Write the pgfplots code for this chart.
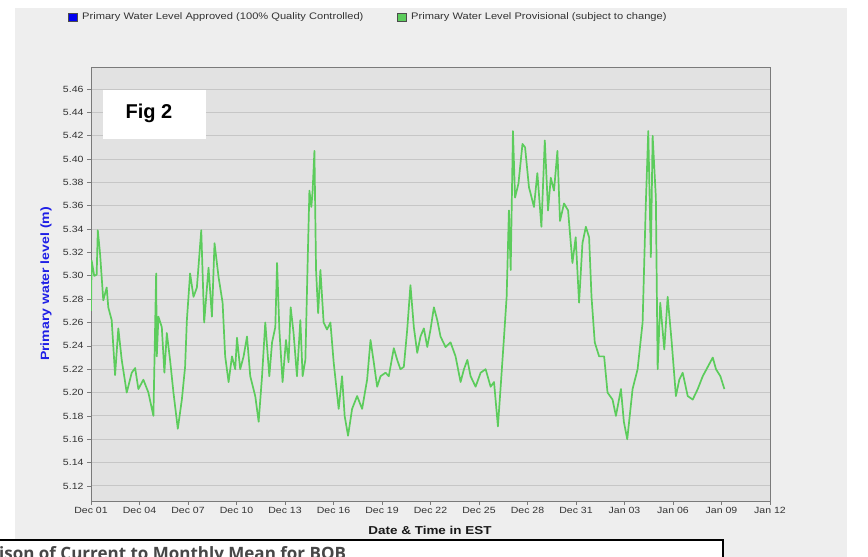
\documentclass[border=0pt]{standalone}
\usepackage{pgfplots}
\pgfplotsset{compat=1.18}
\usepackage{pgfplotstable}
\usepackage{fontspec}
\setmainfont[FakeStretch=1.17]{Liberation Sans}
\newfontfamily\figfont{Liberation Sans}
\newfontfamily\boxfont{Open Sans}

\definecolor{panelbg}{HTML}{EEEEEE}
\definecolor{plotbg}{HTML}{E2E2E2}
\definecolor{gridc}{HTML}{C6C6C6}
\definecolor{framec}{HTML}{7A7A7A}
\definecolor{ticklab}{HTML}{333333}
\definecolor{provgreen}{HTML}{5CCC5C}
\definecolor{apprblue}{HTML}{0000F0}
\definecolor{ylabblue}{HTML}{1E1EE6}

% Provisional primary water level, days since Dec 01 vs level (m)
\pgfplotstableread{
d      h
0.00   5.270
0.04   5.313
0.20   5.300
0.35   5.301
0.42   5.339
0.56   5.319
0.76   5.279
0.97   5.290
1.07   5.273
1.28   5.262
1.49   5.215
1.69   5.255
1.90   5.228
2.21   5.200
2.52   5.217
2.73   5.221
2.93   5.203
3.24   5.211
3.55   5.200
3.86   5.180
4.03   5.302
4.07   5.231
4.17   5.265
4.38   5.256
4.54   5.217
4.69   5.251
4.89   5.228
5.10   5.200
5.37   5.169
5.62   5.194
5.82   5.222
5.93   5.262
6.13   5.302
6.34   5.282
6.55   5.290
6.82   5.339
7.00   5.260
7.27   5.307
7.48   5.265
7.64   5.328
7.89   5.299
8.14   5.277
8.30   5.231
8.51   5.209
8.72   5.231
8.92   5.220
9.03   5.247
9.23   5.220
9.44   5.231
9.65   5.248
9.85   5.214
10.16  5.197
10.37  5.175
10.58  5.214
10.78  5.260
11.03  5.214
11.20  5.243
11.40  5.256
11.51  5.311
11.65  5.254
11.85  5.209
12.06  5.245
12.22  5.226
12.35  5.273
12.53  5.251
12.74  5.214
12.95  5.262
13.09  5.214
13.26  5.228
13.40  5.311
13.51  5.373
13.63  5.359
13.71  5.373
13.82  5.407
13.92  5.305
14.05  5.268
14.19  5.305
14.39  5.260
14.60  5.254
14.81  5.260
15.01  5.226
15.32  5.186
15.53  5.214
15.69  5.180
15.90  5.163
16.15  5.186
16.46  5.197
16.77  5.186
16.98  5.203
17.08  5.211
17.29  5.245
17.49  5.226
17.70  5.205
17.91  5.214
18.22  5.217
18.42  5.214
18.73  5.238
18.94  5.228
19.14  5.220
19.35  5.222
19.56  5.254
19.76  5.292
19.97  5.256
20.18  5.234
20.38  5.248
20.59  5.255
20.80  5.239
21.00  5.254
21.21  5.273
21.42  5.262
21.62  5.248
21.93  5.239
22.24  5.243
22.55  5.231
22.86  5.209
23.07  5.220
23.28  5.228
23.48  5.214
23.79  5.205
24.10  5.217
24.41  5.220
24.72  5.205
24.93  5.209
25.17  5.171
25.34  5.205
25.55  5.248
25.71  5.282
25.85  5.356
25.96  5.305
26.10  5.424
26.23  5.367
26.44  5.379
26.69  5.413
26.85  5.410
27.09  5.376
27.40  5.359
27.61  5.388
27.86  5.342
28.07  5.416
28.27  5.356
28.44  5.384
28.64  5.373
28.85  5.407
29.01  5.347
29.26  5.362
29.51  5.356
29.78  5.311
29.98  5.333
30.19  5.277
30.40  5.328
30.61  5.342
30.81  5.333
30.96  5.282
31.16  5.243
31.43  5.231
31.74  5.231
31.95  5.200
32.26  5.194
32.47  5.180
32.78  5.203
32.96  5.175
33.17  5.160
33.50  5.203
33.81  5.220
34.12  5.260
34.32  5.362
34.47  5.424
34.63  5.316
34.74  5.420
34.94  5.367
35.05  5.220
35.21  5.277
35.46  5.237
35.67  5.282
35.92  5.243
36.18  5.197
36.39  5.211
36.60  5.217
36.91  5.197
37.22  5.194
37.53  5.203
37.84  5.214
38.15  5.222
38.46  5.230
38.66  5.220
38.93  5.214
39.18  5.203
}\provisional

\begin{document}
\begin{tikzpicture}[x=1pt,y=1pt]
  \path[use as bounding box] (0,0) rectangle (868,557);
  \clip (0,0) rectangle (868,557);
  % page and panel backgrounds
  \fill[white] (0,0) rectangle (868,557);
  \fill[panelbg] (15,0) rectangle (847,549);

  % legend
  \fill[apprblue,draw=black!70,line width=0.6pt] (68,536) rectangle (77,544);
  \node[anchor=west,font=\fontsize{9.5}{11}\selectfont,text=black!80,inner sep=0pt] at (82,540)
    {Primary Water Level Approved (100\% Quality Controlled)};
  \fill[provgreen,draw=black!70,line width=0.6pt] (397,536) rectangle (406,544);
  \node[anchor=west,font=\fontsize{9.5}{11}\selectfont,text=black!80,inner sep=0pt] at (411,540)
    {Primary Water Level Provisional (subject to change)};

  \begin{axis}[
    at={(91pt,56pt)}, anchor=south west,
    scale only axis, width=679pt, height=434pt,
    xmin=0, xmax=42, ymin=5.1071, ymax=5.4789,
    xtick={0,3,6,9,12,15,18,21,24,27,30,33,36,39,42},
    xticklabels={Dec 01,Dec 04,Dec 07,Dec 10,Dec 13,Dec 16,Dec 19,Dec 22,Dec 25,Dec 28,Dec 31,Jan 03,Jan 06,Jan 09,Jan 12},
    ytick={5.12,5.14,5.16,5.18,5.20,5.22,5.24,5.26,5.28,5.30,5.32,5.34,5.36,5.38,5.40,5.42,5.44,5.46},
    yticklabel style={/pgf/number format/.cd,fixed,fixed zerofill,precision=2,assume math mode=true},
    tick label style={font=\fontsize{9}{10}\selectfont,text=ticklab},
    xtick pos=lower, ytick pos=left, tick align=outside,
    major tick length=4pt,
    tick style={framec,line width=0.7pt},
    axis line style={framec,line width=0.9pt},
    axis background/.style={fill=plotbg},
    ymajorgrids, grid style={gridc,line width=1.1pt},
    xticklabel style={yshift=1pt},
    clip=true,
  ]
    \addplot[provgreen,line width=1.7pt,line join=round] table[x=d,y=h] {\provisional};
  \end{axis}

  % axis titles
  \node[font=\bfseries\fontsize{11.5}{13}\selectfont,text=black!90] at (430,27) {Date \& Time in EST};
  \node[rotate=90,font=\bfseries\fontsize{12}{14}\selectfont,text=ylabblue] at (46,273) {Primary water level (m)};

  % figure tag
  \fill[white] (103,418) rectangle (206,467);
  \node[font=\figfont\bfseries\fontsize{20}{22}\selectfont] at (149,444) {Fig 2};

  % caption box below the chart
  \fill[white] (-5,-10) rectangle (723,17);
  \draw[black,line width=2pt] (-5,-10) -- (-5,17) -- (723,17) -- (723,-10);
  \node[anchor=base west,font=\boxfont\bfseries\fontsize{17}{19}\selectfont,text=black!72,inner sep=0pt] at (-1,-3)
    {ison of Current to Monthly Mean for BOB};
\end{tikzpicture}
\end{document}
